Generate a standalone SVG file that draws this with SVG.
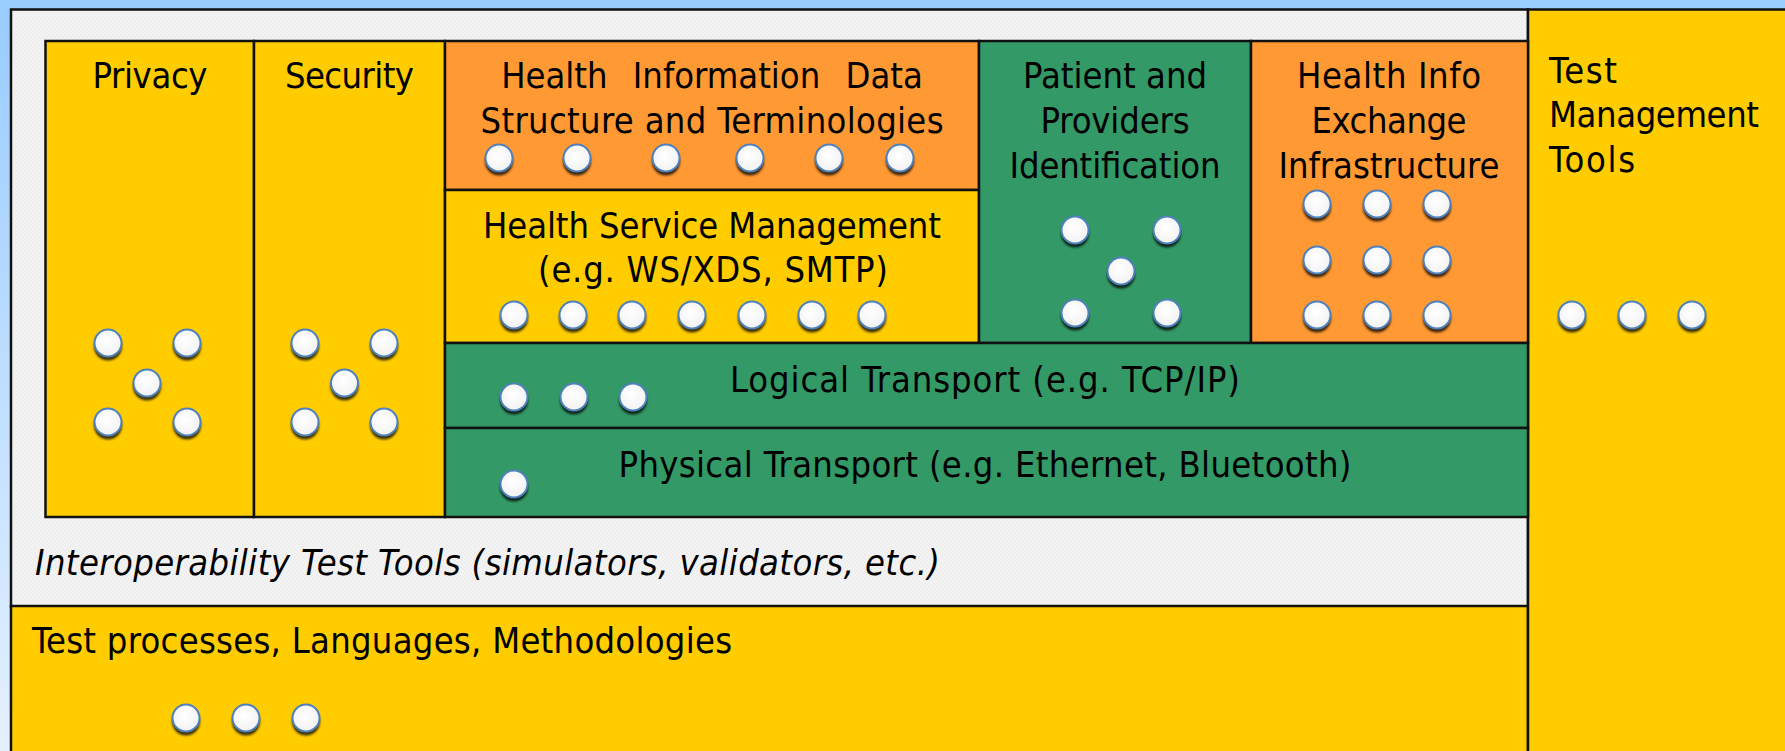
<svg xmlns="http://www.w3.org/2000/svg" xmlns:xlink="http://www.w3.org/1999/xlink" width="1785" height="751" viewBox="0 0 1785 751">
  <defs>
    <style>
      .box { stroke: #111; stroke-width: 2.5; }
      .yellow { fill: #FFCC00; }
      .orange { fill: #FF9933; }
      .green { fill: #339966; }
      text { font-family: "DejaVu Sans Condensed", "DejaVu Sans", "Liberation Sans", sans-serif; font-size: 36px; fill: #000; }
      .c { text-anchor: middle; }
      .it { font-style: oblique; }
    </style>
    <linearGradient id="edge" x1="0" y1="0" x2="0" y2="1">
      <stop offset="0" stop-color="#99CCFF"/>
      <stop offset="1" stop-color="#E4F0FF"/>
    </linearGradient>
    <pattern id="grain" width="4" height="4" patternUnits="userSpaceOnUse">
      <rect width="4" height="4" fill="#EEEEEE"/>
      <rect width="2" height="2" fill="#F3F3F3"/>
      <rect x="2" y="2" width="2" height="2" fill="#F3F3F3"/>
    </pattern>
    <radialGradient id="dotFill" cx="0.45" cy="0.4" r="0.6">
      <stop offset="0" stop-color="#FFFFFF"/>
      <stop offset="1" stop-color="#F2F2F2"/>
    </radialGradient>
    <filter id="soft" x="-50%" y="-50%" width="200%" height="200%">
      <feGaussianBlur stdDeviation="1"/>
    </filter>
    <!-- one round tool marker with its drop shadow -->
    <g id="dot">
      <circle cx="0" cy="3.5" r="14" fill="#000" fill-opacity="0.75" filter="url(#soft)"/>
      <circle cx="0" cy="0" r="13.5" fill="url(#dotFill)" stroke="#4F81BD" stroke-width="2"/>
    </g>
  </defs>

  <!-- page backdrop -->
  <rect width="1785" height="751" fill="#99CCFF"/>
  <rect x="0" y="9" width="11" height="742" fill="url(#edge)"/>

  <!-- interoperability test tools frame -->
  <g id="interop-tools">
    <rect class="box" x="11" y="9.5" width="1517" height="597" fill="url(#grain)"/>
    <text class="it" x="35" y="575" textLength="905">Interoperability Test Tools (simulators, validators, etc.)</text>
  </g>

  <!-- test processes band -->
  <g id="test-processes">
    <rect class="box yellow" x="11" y="606" width="1517" height="150"/>
    <text x="32" y="653" textLength="700">Test processes, Languages, Methodologies</text>
    <use xlink:href="#dot" x="186" y="718"/>
    <use xlink:href="#dot" x="246" y="718"/>
    <use xlink:href="#dot" x="306" y="718"/>
  </g>

  <!-- test management column -->
  <g id="test-management">
    <rect class="box yellow" x="1528" y="9.5" width="262" height="745"/>
    <text x="1549" y="83" textLength="68">Test</text>
    <text x="1549" y="127" textLength="210">Management</text>
    <text x="1549" y="172" textLength="86">Tools</text>
    <use xlink:href="#dot" x="1572" y="315"/>
    <use xlink:href="#dot" x="1632" y="315"/>
    <use xlink:href="#dot" x="1692" y="315"/>
  </g>

  <g id="privacy">
    <rect class="box yellow" x="45.5" y="41" width="208.5" height="476"/>
    <text class="c" x="150" y="88" textLength="115">Privacy</text>
    <use xlink:href="#dot" x="108" y="343"/>
    <use xlink:href="#dot" x="187" y="343"/>
    <use xlink:href="#dot" x="147" y="383"/>
    <use xlink:href="#dot" x="108" y="422"/>
    <use xlink:href="#dot" x="187" y="422"/>
  </g>

  <g id="security">
    <rect class="box yellow" x="254" y="41" width="191" height="476"/>
    <text class="c" x="349.5" y="88" textLength="129">Security</text>
    <use xlink:href="#dot" x="305" y="343"/>
    <use xlink:href="#dot" x="384" y="343"/>
    <use xlink:href="#dot" x="344.5" y="383"/>
    <use xlink:href="#dot" x="305" y="422"/>
    <use xlink:href="#dot" x="384" y="422"/>
  </g>

  <g id="data-structure">
    <rect class="box orange" x="445" y="41" width="534" height="149"/>
    <text class="c" x="712" y="88" word-spacing="15">Health Information Data</text>
    <text class="c" x="712" y="133" textLength="463">Structure and Terminologies</text>
    <use xlink:href="#dot" x="499" y="158"/>
    <use xlink:href="#dot" x="577" y="158"/>
    <use xlink:href="#dot" x="666" y="158"/>
    <use xlink:href="#dot" x="750" y="158"/>
    <use xlink:href="#dot" x="829" y="158"/>
    <use xlink:href="#dot" x="900" y="158"/>
  </g>

  <g id="service-management">
    <rect class="box yellow" x="445" y="190" width="534" height="153"/>
    <text class="c" x="712" y="238" textLength="458">Health Service Management</text>
    <text class="c" x="713" y="282" textLength="350">(e.g. WS/XDS, SMTP)</text>
    <use xlink:href="#dot" x="514" y="315"/>
    <use xlink:href="#dot" x="573" y="315"/>
    <use xlink:href="#dot" x="632" y="315"/>
    <use xlink:href="#dot" x="692" y="315"/>
    <use xlink:href="#dot" x="752" y="315"/>
    <use xlink:href="#dot" x="812" y="315"/>
    <use xlink:href="#dot" x="872" y="315"/>
  </g>

  <g id="identification">
    <rect class="box green" x="979" y="41" width="272" height="302"/>
    <text class="c" x="1115" y="88" textLength="184">Patient and</text>
    <text class="c" x="1115" y="133" textLength="149">Providers</text>
    <text class="c" x="1115" y="178" textLength="211">Identification</text>
    <use xlink:href="#dot" x="1075" y="230"/>
    <use xlink:href="#dot" x="1167" y="230"/>
    <use xlink:href="#dot" x="1121" y="271"/>
    <use xlink:href="#dot" x="1075" y="313"/>
    <use xlink:href="#dot" x="1167" y="313"/>
  </g>

  <g id="exchange-infrastructure">
    <rect class="box orange" x="1251" y="41" width="277" height="302"/>
    <text class="c" x="1389" y="88" textLength="184">Health Info</text>
    <text class="c" x="1389" y="133" textLength="155">Exchange</text>
    <text class="c" x="1389" y="178" textLength="221">Infrastructure</text>
    <use xlink:href="#dot" x="1317" y="204"/>
    <use xlink:href="#dot" x="1377" y="204"/>
    <use xlink:href="#dot" x="1437" y="204"/>
    <use xlink:href="#dot" x="1317" y="260"/>
    <use xlink:href="#dot" x="1377" y="260"/>
    <use xlink:href="#dot" x="1437" y="260"/>
    <use xlink:href="#dot" x="1317" y="315"/>
    <use xlink:href="#dot" x="1377" y="315"/>
    <use xlink:href="#dot" x="1437" y="315"/>
  </g>

  <g id="logical-transport">
    <rect class="box green" x="445" y="343" width="1083" height="85"/>
    <text class="c" x="985" y="392" textLength="510">Logical Transport (e.g. TCP/IP)</text>
    <use xlink:href="#dot" x="514" y="397"/>
    <use xlink:href="#dot" x="574" y="397"/>
    <use xlink:href="#dot" x="633" y="397"/>
  </g>

  <g id="physical-transport">
    <rect class="box green" x="445" y="428" width="1083" height="89"/>
    <text class="c" x="985" y="477" textLength="733">Physical Transport (e.g. Ethernet, Bluetooth)</text>
    <use xlink:href="#dot" x="514" y="484"/>
  </g>

  <!-- no connectors in this layered chart -->
  <g id="connectors"/>
</svg>
